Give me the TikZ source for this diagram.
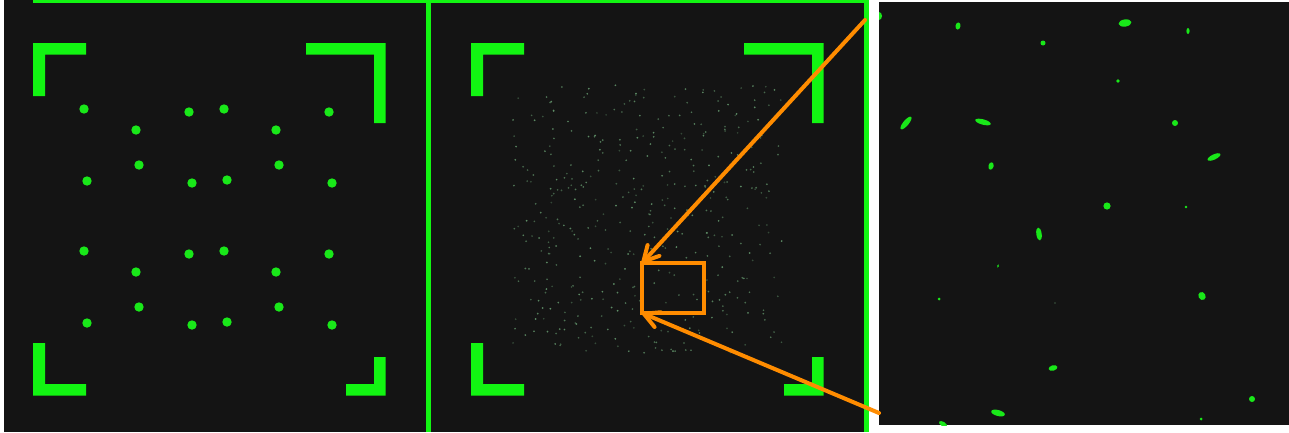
\documentclass[tikz,border=0pt]{standalone}
\usetikzlibrary{arrows.meta}
\definecolor{bgdark}{RGB}{20,20,20}
\definecolor{brgreen}{RGB}{18,245,18}
\definecolor{dotgreen}{RGB}{25,232,25}
\definecolor{faintdot}{RGB}{105,160,115}
\definecolor{zoomorange}{RGB}{255,140,0}
\tikzset{
  bracket/.style={fill=brgreen},
  bigdot/.style={fill=dotgreen},
  blob/.style={fill=dotgreen},
  zoomframe/.style={draw=zoomorange, line width=4pt, inner sep=0pt, outer sep=0pt, minimum width=62pt, minimum height=50pt},
  zoomarrow/.style={draw=zoomorange, line width=4pt, line cap=round, -{Straight Barb[length=15pt,width=16pt,line width=4pt,round]}}
}
\begin{document}
\begin{tikzpicture}[x=1pt,y=-1pt]
\useasboundingbox (0,0) rectangle (1289,432);
\fill[white] (0,0) rectangle (1289,432);
% dark panels
\fill[bgdark] (4,0) rectangle (866,432);
\fill[bgdark] (879,2) rectangle (1289,425);
% green frame lines
\fill[brgreen] (33,0) rectangle (868,3);
\fill[brgreen] (426,0) rectangle (430.5,432);
\fill[brgreen] (864,0) rectangle (868.5,432);
% corner brackets, both panels
\foreach \dx in {0,438}{
\begin{scope}[xshift=\dx pt]
\fill[bracket] (33,43)--(86,43)--(86,54.5)--(45,54.5)--(45,96)--(33,96)--cycle;
\fill[bracket] (306,43)--(385.5,43)--(385.5,123)--(374,123)--(374,54.5)--(306,54.5)--cycle;
\fill[bracket] (33,343)--(45,343)--(45,384)--(86,384)--(86,395.5)--(33,395.5)--cycle;
\fill[bracket] (374,357)--(385.5,357)--(385.5,395.5)--(346,395.5)--(346,384)--(374,384)--cycle;
\end{scope}}
% left panel dot pattern
\foreach \dy in {0,142}{
\foreach \p in {(84,109),(189,112),(224,109),(329,112),(136,130),(276,130),(139,165),(279,165),(87,181),(192,183),(227,180),(332,183)}{
\fill[bigdot,yshift=-\dy pt] \p circle (4.7);
}}
% middle panel faint scatter
\pgfmathsetseed{7}
\foreach \i in {1,...,420}{
  \pgfmathsetmacro\px{513+269*rnd}
  \pgfmathsetmacro\py{85+268*rnd}
  \pgfmathsetmacro\op{0.35+0.55*rnd}
  \fill[faintdot,opacity=\op] (\px,\py) circle (0.95);
}
% right panel magnified blobs
\begin{scope}
\clip (879,2) rectangle (1289,425);
\fill[blob] (879,16) ellipse (3 and 4);
\fill[blob,rotate around={-10:(958,26)}] (958,26) ellipse (2.5 and 3.6);
\fill[blob,rotate around={8:(1125,23)}] (1125,23) ellipse (6.5 and 3.6);
\fill[blob] (1188,31) ellipse (1.6 and 3);
\fill[blob] (1043,43) circle (2.5);
\fill[blob] (1118,81) circle (1.8);
\fill[blob,rotate around={50:(906,123)}] (906,123) ellipse (8 and 2.7);
\fill[blob,rotate around={-15:(983,122)}] (983,122) ellipse (8 and 2.7);
\fill[blob] (1175,123) circle (3);
\fill[blob,rotate around={25:(1214,157)}] (1214,157) ellipse (7 and 2.6);
\fill[blob,rotate around={-15:(991,166)}] (991,166) ellipse (2.6 and 3.8);
\fill[blob] (1107,206) circle (3.6);
\fill[blob] (1186,207) circle (1.3);
\fill[blob,rotate around={8:(1039,234)}] (1039,234) ellipse (2.7 and 6.5);
\fill[blob,rotate around={-15:(998,266)}] (998,266) ellipse (0.8 and 1.8);
\fill[blob] (939,299) circle (1.5);
\fill[faintdot] (1055,303) circle (0.7);
\fill[blob,rotate around={30:(1202,296)}] (1202,296) ellipse (3.5 and 4.2);
\fill[blob,rotate around={15:(1053,368)}] (1053,368) ellipse (4.5 and 2.7);
\fill[blob] (1252,399) circle (3);
\fill[blob,rotate around={-15:(998,413)}] (998,413) ellipse (7 and 3);
\fill[blob] (1201,419) circle (1.5);
\fill[blob,rotate around={-30:(943,424)}] (943,424) ellipse (4.5 and 2.2);
\end{scope}
% zoom box and arrows
\node[zoomframe] (zoombox) at (673,288) {};
\coordinate (srctop) at (865,20);
\coordinate (srcbot) at (879,413);
\draw[zoomarrow] (srctop) -- (zoombox.north west);
\draw[zoomarrow] (srcbot) -- (zoombox.south west);
\end{tikzpicture}
\end{document}
